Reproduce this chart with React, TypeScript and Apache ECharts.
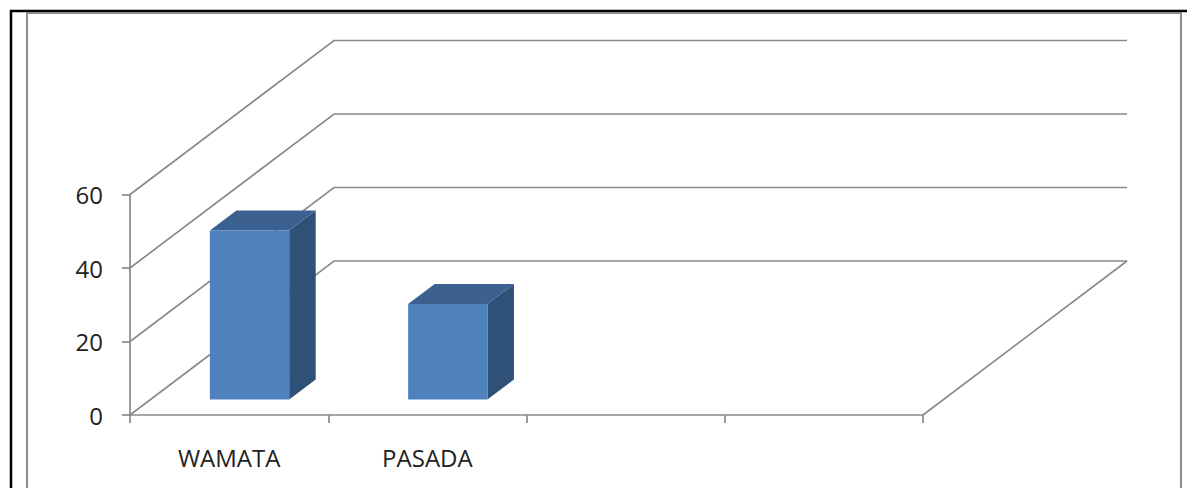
import React, { useEffect, useRef } from "react";
import * as echarts from "echarts";

const CATEGORIES = ["WAMATA", "PASADA", "", ""];
const VALUES = [46, 26];
const Y_TICKS = [0, 20, 40, 60];

// style constants (pixels / fractions)
const DEPTH_DX = 204;
const DEPTH_DY = -154;
const BAR_FRONT = 0.1; // fraction of depth where bar front face sits
const BAR_DEPTH = 0.13; // fraction of depth occupied by bar
const BAR_WIDTH_FRAC = 0.4;
const GRID_COLOR = "#8a8a8a";
const FONT = "'Open Sans', 'Liberation Sans', sans-serif";

export default function App() {
  const ref = useRef<HTMLDivElement>(null);
  useEffect(() => {
    if (!ref.current) return;
    const chart = echarts.init(ref.current, null, { renderer: "svg" });
    const option: any = {
      animation: false,
      backgroundColor: "#ffffff",
      grid: { left: 130, right: 264, top: 194.5, bottom: 73, containLabel: false },
      xAxis: {
        type: "category",
        data: CATEGORIES,
        boundaryGap: true,
        axisLine: { show: true, lineStyle: { color: GRID_COLOR, width: 1.7 } },
        axisTick: { show: true, length: 8, interval: 0, alignWithLabel: false, lineStyle: { color: GRID_COLOR, width: 1.7 } },
        axisLabel: { interval: 0, margin: 30, fontFamily: FONT, fontSize: 24, color: "#222" },
        splitLine: { show: false },
      },
      yAxis: {
        type: "value",
        min: 0,
        max: 60,
        interval: 20,
        axisLine: { show: true, lineStyle: { color: GRID_COLOR, width: 1.7 } },
        axisTick: { show: true, length: 8, lineStyle: { color: GRID_COLOR, width: 1.7 } },
        axisLabel: { margin: 27, fontFamily: FONT, fontSize: 24, color: "#222" },
        splitLine: { show: false },
      },
      graphic: [
        {
          type: "rect",
          shape: { x: 11, y: 11, width: 1300, height: 600 },
          style: { fill: "none", stroke: "#000", lineWidth: 2.5 },
          silent: true,
          z: 100,
        },
        {
          type: "rect",
          shape: { x: 27, y: 13, width: 1154, height: 600 },
          style: { fill: "none", stroke: "#8c8c8c", lineWidth: 2 },
          silent: true,
          z: 100,
        },
      ],
      series: [
        {
          type: "custom",
          name: "frame",
          clip: false,
          z: 1,
          silent: true,
          data: [[0, 0]],
          renderItem: (params: any, api: any) => {
            const cs = params.coordSys;
            const x0 = cs.x;
            const x1 = cs.x + cs.width;
            const children: any[] = [];
            Y_TICKS.forEach((v) => {
              const y = api.coord([0, v])[1];
              children.push({
                type: "polyline",
                shape: {
                  points: [
                    [x0, y],
                    [x0 + DEPTH_DX, y + DEPTH_DY],
                    [x1 + DEPTH_DX, y + DEPTH_DY],
                  ],
                },
                style: { fill: "none", stroke: GRID_COLOR, lineWidth: 1.7 },
              });
            });
            const yb = api.coord([0, 0])[1];
            children.push({
              type: "line",
              shape: { x1: x1, y1: yb, x2: x1 + DEPTH_DX, y2: yb + DEPTH_DY },
              style: { stroke: GRID_COLOR, lineWidth: 1.7 },
            });
            return { type: "group", children };
          },
        },
        {
          type: "custom",
          name: "bars",
          clip: false,
          z: 5,
          data: VALUES.map((v, i) => [i, v]),
          renderItem: (params: any, api: any) => {
            const i = api.value(0);
            const v = api.value(1);
            const c0 = api.coord([i, 0]);
            const c1 = api.coord([i, v]);
            const band = api.size([1, 0])[0];
            const bw = band * BAR_WIDTH_FRAC;
            const fx = DEPTH_DX * BAR_FRONT;
            const fy = DEPTH_DY * BAR_FRONT;
            const dx = DEPTH_DX * BAR_DEPTH;
            const dy = DEPTH_DY * BAR_DEPTH;
            const L = c0[0] - bw / 2 + fx;
            const R = c0[0] + bw / 2 + fx;
            const T = c1[1] + fy;
            const B = c0[1] + fy;
            return {
              type: "group",
              children: [
                {
                  type: "polygon",
                  shape: { points: [[R, T], [R + dx, T + dy], [R + dx, B + dy], [R, B]] },
                  style: { fill: "#2f5178", stroke: "none" },
                },
                {
                  type: "polygon",
                  shape: { points: [[L, T], [R, T], [R + dx, T + dy], [L + dx, T + dy]] },
                  style: { fill: "#3c6191", stroke: "none" },
                },
                {
                  type: "rect",
                  shape: { x: L, y: T, width: R - L, height: B - T },
                  style: { fill: "#4f81bd", stroke: "none" },
                },
              ],
            };
          },
        },
      ],
    };
    chart.setOption(option);
    return () => chart.dispose();
  }, []);
  return (
    <div
      ref={ref}
      style={{ position: "absolute", left: 0, top: 0, width: 1187, height: 488 }}
    />
  );
}
